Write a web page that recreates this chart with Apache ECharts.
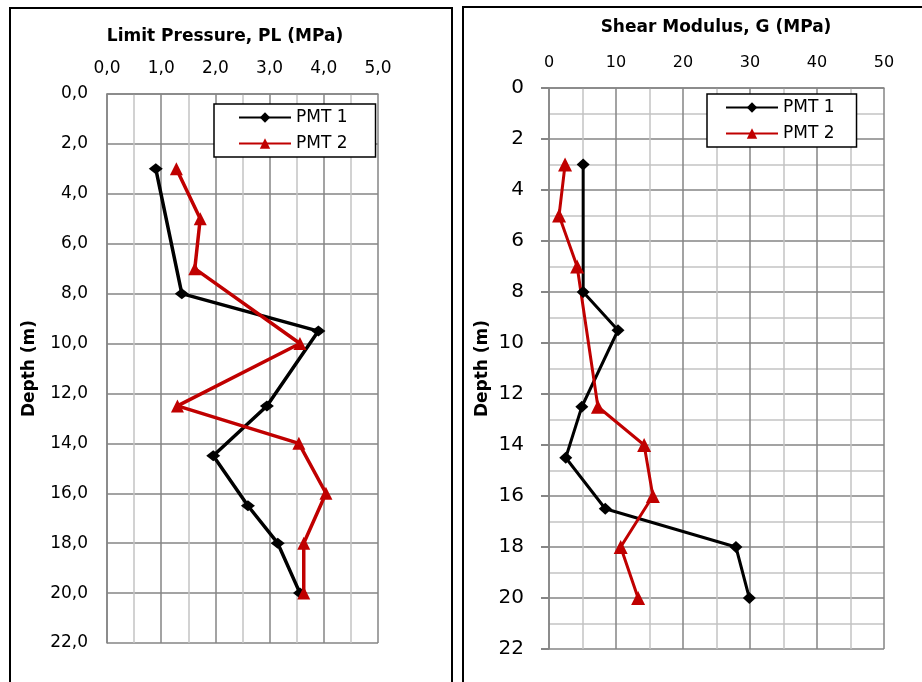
<!DOCTYPE html>
<html lang="en">
<head>
    <meta charset="UTF-8">
    <title>PMT Results</title>
    <script src="https://cdn.jsdelivr.net/npm/echarts@6/dist/echarts.min.js"></script>
    <style>
        html, body { margin: 0; padding: 0; background: #fff; }
        #chart { width: 922px; height: 682px; }
    </style>
</head>
<body>
    <div id="chart"></div>
    <script>
        // Limit pressure (MPa) vs depth (m)
        const plDepth1 = [3, 8, 9.5, 12.5, 14.5, 16.5, 18, 20];
        const plPmt1 = [0.9, 1.38, 3.9, 2.95, 1.96, 2.6, 3.15, 3.56];
        const plDepth2 = [3, 5, 7, 10, 12.5, 14, 16, 18, 20];
        const plPmt2 = [1.28, 1.72, 1.62, 3.56, 1.3, 3.54, 4.04, 3.63, 3.63];

        // Shear modulus (MPa) vs depth (m)
        const gDepth1 = [3, 8, 9.5, 12.5, 14.5, 16.5, 18, 20];
        const gPmt1 = [5.1, 5.1, 10.3, 4.9, 2.5, 8.4, 27.9, 29.9];
        const gDepth2 = [3, 5, 7, 12.5, 14, 16, 18, 20];
        const gPmt2 = [2.4, 1.5, 4.2, 7.3, 14.2, 15.5, 10.7, 13.3];

        const seriesNames = ['PMT 1', 'PMT 2'];
        const FONT = 'DejaVu Sans';

        const pairs = (xs, ys) => xs.map((x, i) => [x, ys[i]]);
        const comma = v => v.toFixed(1).replace('.', ',');

        const majorLine = { show: true, lineStyle: { color: '#858585', width: 1.5 } };
        const minorLine = { show: true, lineStyle: { color: '#c4c4c4', width: 1.5 } };
        const axisLine = { show: true, lineStyle: { color: '#858585', width: 1.5 } };

        function makeSeries(name, data, idx, isPmt2, lw, size) {
            const color = isPmt2 ? '#c00000' : '#000';
            return {
                name: name,
                type: 'line',
                xAxisIndex: idx,
                yAxisIndex: idx,
                data: data,
                symbol: isPmt2 ? 'triangle' : 'diamond',
                symbolSize: size,
                showSymbol: true,
                lineStyle: { width: lw, color: color },
                itemStyle: { color: color },
                emphasis: { disabled: true }
            };
        }

        function makeLegend(left, top, padding) {
            return {
                data: seriesNames, orient: 'vertical', left: left, top: top,
                itemWidth: 52, itemHeight: 13, itemGap: 9, padding: padding,
                backgroundColor: '#fff', borderColor: '#000', borderWidth: 1.5,
                textStyle: { fontSize: 17, color: '#000', fontFamily: FONT },
                selectedMode: false, z: 50
            };
        }

        const chart = echarts.init(document.getElementById('chart'));
        chart.setOption({
            animation: false,
            textStyle: { fontFamily: FONT },
            graphic: [
                { type: 'rect', shape: { x: 10, y: 8, width: 442, height: 690 },
                  style: { fill: 'none', stroke: '#000', lineWidth: 2 }, z: 100 },
                { type: 'rect', shape: { x: 463, y: 7, width: 480, height: 690 },
                  style: { fill: 'none', stroke: '#000', lineWidth: 2 }, z: 100 },
                { type: 'text', x: 225, y: 37, style: { text: 'Limit Pressure, PL (MPa)', fontFamily: FONT,
                  fontWeight: 'bold', fontSize: 17, fill: '#000', align: 'center', verticalAlign: 'middle' } },
                { type: 'text', x: 716, y: 28, style: { text: 'Shear Modulus, G (MPa)', fontFamily: FONT,
                  fontWeight: 'bold', fontSize: 17, fill: '#000', align: 'center', verticalAlign: 'middle' } }
            ],
            grid: [
                { left: 107, top: 94, width: 271, height: 549 },
                { left: 549, top: 88, width: 335, height: 561 }
            ],
            legend: [
                makeLegend(214, 104, [5, 28, 5, 24]),
                makeLegend(707, 94, [5, 22, 5, 18])
            ],
            xAxis: [
                {
                    gridIndex: 0, type: 'value', position: 'top', min: 0, max: 5, interval: 1,
                    axisLine: axisLine,
                    axisTick: { show: false },
                    axisLabel: { formatter: comma, fontSize: 17, color: '#000', margin: 17 },
                    splitLine: majorLine,
                    minorTick: { show: false, splitNumber: 2 },
                    minorSplitLine: minorLine
                },
                {
                    gridIndex: 1, type: 'value', position: 'top', min: 0, max: 50, interval: 10,
                    axisLine: axisLine,
                    axisTick: { show: false },
                    axisLabel: { fontSize: 16, color: '#000', margin: 17 },
                    splitLine: majorLine,
                    minorTick: { show: false, splitNumber: 2 },
                    minorSplitLine: minorLine
                }
            ],
            yAxis: [
                {
                    gridIndex: 0, type: 'value', inverse: true, min: 0, max: 22, interval: 2,
                    name: 'Depth (m)', nameLocation: 'middle', nameRotate: 90, nameGap: 69,
                    nameTextStyle: { fontSize: 17, fontWeight: 'bold', color: '#000' },
                    axisLine: axisLine,
                    axisTick: { show: false },
                    axisLabel: { formatter: comma, fontSize: 17, color: '#000', margin: 19 },
                    splitLine: majorLine
                },
                {
                    gridIndex: 1, type: 'value', inverse: true, min: 0, max: 22, interval: 2,
                    name: 'Depth (m)', nameLocation: 'middle', nameRotate: 90, nameGap: 58,
                    nameTextStyle: { fontSize: 17, fontWeight: 'bold', color: '#000' },
                    axisLine: axisLine,
                    axisTick: { show: true, inside: false, length: 8, lineStyle: { color: '#858585', width: 2 } },
                    axisLabel: { fontSize: 20, color: '#000', margin: 25 },
                    splitLine: majorLine,
                    minorTick: { show: false, splitNumber: 2 },
                    minorSplitLine: minorLine
                }
            ],
            series: [
                makeSeries('PMT 1', pairs(plPmt1, plDepth1), 0, false, 3.5, [14, 11]),
                makeSeries('PMT 2', pairs(plPmt2, plDepth2), 0, true, 3.5, [13, 13]),
                makeSeries('PMT 1', pairs(gPmt1, gDepth1), 1, false, 3, [13, 12]),
                makeSeries('PMT 2', pairs(gPmt2, gDepth2), 1, true, 3, [14, 14])
            ]
        });
    </script>
</body>
</html>
